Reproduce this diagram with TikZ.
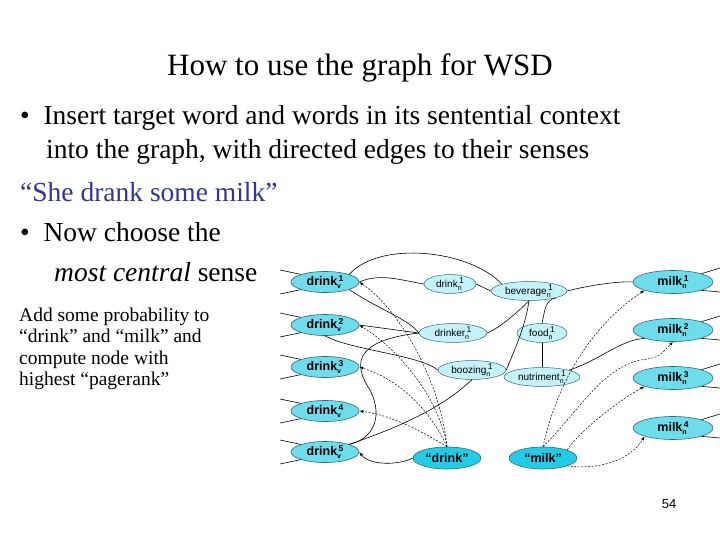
\documentclass[tikz,border=0pt]{standalone}
\usepackage{fontspec}
\setmainfont{Liberation Serif}
\newfontfamily\arialf{Liberation Sans}
\usetikzlibrary{shapes.geometric,arrows.meta}
\definecolor{big}{HTML}{6FDCEC}
\definecolor{small}{HTML}{C4F2F8}
\definecolor{quote}{HTML}{22CCE6}
\definecolor{bord}{HTML}{2A6A80}
\definecolor{sheblue}{HTML}{333399}
\newcommand{\sensel}[3]{#1\rlap{\raisebox{-3pt}{\fontsize{7}{7}\selectfont #2}}\raisebox{4.5pt}{\fontsize{8.5}{8.5}\selectfont\,#3}}
\begin{document}
\begin{tikzpicture}[x=1pt,y=-1pt,
  sense/.style={ellipse,draw=bord,fill=big,line width=0.6pt,minimum width=68pt,minimum height=21pt,inner sep=0pt,font=\arialf\bfseries\fontsize{12.5}{12.5}\selectfont},
  msense/.style={sense,minimum width=80pt,minimum height=23pt},
  inner/.style={ellipse,draw=bord,fill=small,line width=0.5pt,minimum height=16pt,inner sep=0pt,font=\arialf\fontsize{10}{10}\selectfont},
  qnode/.style={ellipse,draw=bord,fill=quote,line width=0.6pt,minimum width=68pt,minimum height=22pt,inner sep=0pt,font=\arialf\bfseries\fontsize{12.5}{12.5}\selectfont},
  edge/.style={line width=0.6pt},
  darr/.style={line width=0.5pt,dash pattern=on 2pt off 1.5pt,-{Latex[length=4pt,width=3pt]}},
  txt/.style={anchor=west,inner sep=0pt,font=\fontsize{27.5}{27.5}\selectfont}]
\useasboundingbox (0,0) rectangle (720,540);
\node (title) at (360,68) {\fontsize{31}{31}\selectfont How to use the graph for WSD};
\node[txt] (b1) at (20,118) {\textbullet\ \ Insert target word and words in its sentential context};
\node[txt] (b1b) at (46,152) {into the graph, with directed edges to their senses};
\node[txt,text=sheblue] (ex) at (20,192) {“She drank some milk”};
\node[txt] (b2) at (20,232) {\textbullet\ \ Now choose the};
\node[txt] (b2b) at (54,272) {\textit{most central} sense};
\node[anchor=west,inner sep=0pt,font=\fontsize{19.5}{19.5}\selectfont,align=left] (add) at (19,349) {Add some probability to\\[2pt]“drink” and “milk” and\\[2pt]compute node with\\[2pt]highest “pagerank”};
\node[font=\arialf\fontsize{13}{13}\selectfont] (pg) at (669,504) {54};
% nodes
\node[sense] (v1) at (325,282) {\sensel{drink}{v}{1}};
\node[sense] (v2) at (325,325) {\sensel{drink}{v}{2}};
\node[sense] (v3) at (325,367) {\sensel{drink}{v}{3}};
\node[sense] (v4) at (325,411) {\sensel{drink}{v}{4}};
\node[sense] (v5) at (325,452) {\sensel{drink}{v}{5}};
\node[inner,minimum width=52pt] (dn) at (450,284) {\sensel{drink}{n}{1}};
\node[inner,minimum width=76pt] (bev) at (529,291) {\sensel{beverage}{n}{1}};
\node[inner,minimum width=68pt] (dr) at (453,333) {\sensel{drinker}{n}{1}};
\node[inner,minimum width=50pt] (food) at (542,333) {\sensel{food}{n}{1}};
\node[inner,minimum width=68pt] (booz) at (472,370) {\sensel{boozing}{n}{1}};
\node[inner,minimum width=76pt] (nut) at (542,377) {\sensel{nutriment}{n}{1}};
\node[qnode] (qd) at (447,458) {“drink”};
\node[qnode] (qm) at (543,458) {“milk”};
\node[msense] (m1) at (673,282) {\sensel{milk}{n}{1}};
\node[msense] (m2) at (673,330) {\sensel{milk}{n}{2}};
\node[msense] (m3) at (673,378) {\sensel{milk}{n}{3}};
\node[msense] (m4) at (673,428) {\sensel{milk}{n}{4}};
% stub ends
\foreach \n/\y in {v1/282,v2/325,v3/367,v4/411,v5/452}{
  \coordinate (\n a) at (280,\y-12); \coordinate (\n b) at (280,\y+12);
  \draw[edge] (\n.north west) -- (\n a); \draw[edge] (\n.south west) -- (\n b);}
\foreach \n/\y in {m1/282,m2/330,m3/378,m4/428}{
  \coordinate (\n a) at (720,\y-14); \coordinate (\n b) at (720,\y+10);
  \draw[edge] (\n.north east) -- (\n a); \draw[edge] (\n.south east) -- (\n b);}
% solid edges
\draw[edge] (v1.north east) .. controls (380,240) and (470,250) .. (bev.north west);
\draw[edge] (v1.east) .. controls (380,273) and (400,280) .. (dn.west);
\draw[edge] (dn.east) -- (bev.west);
\draw[edge] (bev.east) .. controls (590,285) and (620,281) .. (m1.west);
\draw[edge] (v1.south east) .. controls (380,310) and (410,320) .. (dr.west);
\draw[edge] (v2.east) -- (dr.west);
\draw[edge] (dr.east) .. controls (500,328) and (520,310) .. (bev.south);
\draw[edge] (v2.south) .. controls (350,350) and (420,355) .. (booz.west);
\draw[edge] (booz.east) .. controls (510,360) and (525,330) .. (bev.south);
\draw[edge] (bev.south east) .. controls (545,300) and (545,310) .. (food.north);
\draw[edge] (food.south) -- (nut.north);
\draw[edge] (nut.north east) .. controls (600,360) and (620,340) .. (m2.south west);
\draw[edge] (v5.north east) .. controls (420,420) and (450,400) .. (booz.south);
\draw[edge] (dr.west) .. controls (360,340) and (350,360) .. (370,390) .. controls (385,420) and (370,440) .. (v5.north east);
\draw[edge,-{Latex[length=4pt,width=3pt]}] (qd.west) .. controls (400,465) and (370,466) .. (v5.east);
% dashed arrows
\draw[darr] (qd.north) .. controls (440,380) and (400,310) .. (v1.east);
\draw[darr] (qd.north) .. controls (440,400) and (400,350) .. (v2.east);
\draw[darr] (qd.north) .. controls (430,410) and (400,380) .. (v3.east);
\draw[darr] (qd.north) .. controls (420,430) and (390,415) .. (v4.east);
\draw[darr] (qm.north) .. controls (560,370) and (600,320) .. (m1.south west);
\draw[darr] (qm.north) .. controls (580,410) and (600,370) .. (640,360) .. controls (660,358) and (660,355) .. (m2.south);
\draw[darr] (qm.north east) .. controls (580,430) and (620,400) .. (m3.south west);
\draw[darr] (qm.south east) .. controls (600,470) and (630,460) .. (m4.south west);
\end{tikzpicture}
\end{document}
